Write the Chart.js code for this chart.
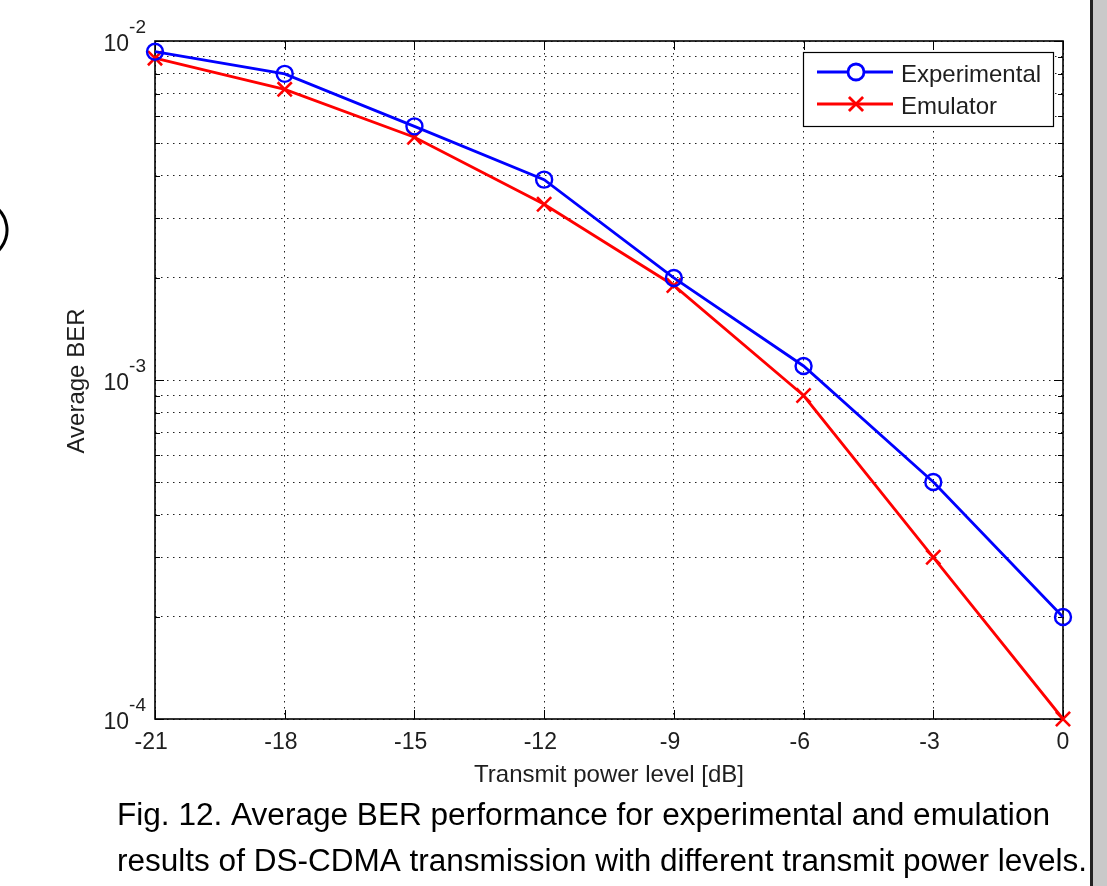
<!DOCTYPE html>
<html><head><meta charset="utf-8">
<script src="https://cdn.jsdelivr.net/npm/chart.js@4.4.1/dist/chart.umd.min.js"></script>
<style>html,body{margin:0;padding:0;background:#fff;overflow:hidden}canvas{display:block}</style>
</head><body>
<canvas id="c" width="1107" height="886"></canvas>
<script>
const powerLevels = [-21, -18, -15, -12, -9, -6, -3, 0];
const experimentalBER = [9.3e-3, 8.0e-3, 5.6e-3, 3.9e-3, 2.0e-3, 1.1e-3, 5.0e-4, 2.0e-4];
const emulatorBER = [8.9e-3, 7.2e-3, 5.2e-3, 3.3e-3, 1.9e-3, 9.0e-4, 3.0e-4, 1.0e-4];
const xTicks = [-21, -18, -15, -12, -9, -6, -3, 0];
const yDecadeTicks = [1e-4, 1e-3, 1e-2];
const yDecadeExponents = ['-4', '-3', '-2'];
const yMinorTicks = [2e-4, 3e-4, 4e-4, 5e-4, 6e-4, 7e-4, 8e-4, 9e-4, 2e-3, 3e-3, 4e-3, 5e-3, 6e-3, 7e-3, 8e-3, 9e-3];
const seriesNames = ['Experimental', 'Emulator'];
const xTitle = 'Transmit power level [dB]';
const yTitle = 'Average BER';
const captionLines = ['Fig. 12. Average BER performance for experimental and emulation',
  'results of DS-CDMA transmission with different transmit power levels.'];

const FONT = '"Liberation Sans", Arial, sans-serif';
const TXT = '#1e1e1e';

const overlay = {
  id: 'overlay',
  beforeDatasetsDraw(chart) {
    const {ctx, chartArea: a, scales: {x, y}} = chart;
    ctx.save();
    ctx.strokeStyle = '#000';
    ctx.lineWidth = 1;
    ctx.beginPath();
    xTicks.forEach(v => {
      const px = Math.round(x.getPixelForValue(v)) + 0.5;
      ctx.moveTo(px, a.bottom); ctx.lineTo(px, a.bottom - 9);
      ctx.moveTo(px, a.top); ctx.lineTo(px, a.top + 9);
    });
    yDecadeTicks.forEach(v => {
      const py = Math.round(y.getPixelForValue(v)) + 0.5;
      ctx.moveTo(a.left, py); ctx.lineTo(a.left + 9, py);
      ctx.moveTo(a.right, py); ctx.lineTo(a.right - 9, py);
    });
    yMinorTicks.forEach(v => {
      const py = Math.round(y.getPixelForValue(v)) + 0.5;
      ctx.moveTo(a.left, py); ctx.lineTo(a.left + 5, py);
      ctx.moveTo(a.right, py); ctx.lineTo(a.right - 5, py);
    });
    ctx.stroke();
    ctx.lineWidth = 1.6;
    ctx.strokeRect(a.left, a.top, a.right - a.left, a.bottom - a.top);
    ctx.restore();
  },
  afterDraw(chart) {
    const {ctx, chartArea: a, scales: {x, y}} = chart;
    ctx.save();
    ctx.fillStyle = TXT;
    ctx.textBaseline = 'alphabetic';

    // x tick labels (digits centred on the tick, minus sign hanging left)
    ctx.font = '23px ' + FONT;
    ctx.textAlign = 'left';
    xTicks.forEach(v => {
      const px = x.getPixelForValue(v);
      const s = String(v);
      const digits = s.replace('-', '');
      const dw = ctx.measureText(digits).width;
      const mw = s.startsWith('-') ? ctx.measureText('-').width : 0;
      ctx.fillText(s, px - dw / 2 - mw, a.bottom + 30);
    });

    // y decade labels with superscript
    yDecadeTicks.forEach((v, i) => {
      const py = y.getPixelForValue(v);
      const exp = yDecadeExponents[i];
      ctx.font = '19px ' + FONT;
      const ew = ctx.measureText(exp).width;
      ctx.font = '23px ' + FONT;
      const bw = ctx.measureText('10').width;
      const right = a.left - 9;
      ctx.textAlign = 'left';
      ctx.fillText('10', right - ew - bw, py + 9.5);
      ctx.font = '19px ' + FONT;
      ctx.fillText(exp, right - ew, py - 8);
    });

    // axis titles
    ctx.font = '24px ' + FONT;
    ctx.textAlign = 'center';
    ctx.fillText(xTitle, (a.left + a.right) / 2, 782);
    ctx.save();
    ctx.translate(84, (a.top + a.bottom) / 2 + 1);
    ctx.rotate(-Math.PI / 2);
    ctx.fillText(yTitle, 0, 0);
    ctx.restore();

    // legend box
    const lx = 803, ly = 52, lw = 250, lh = 74;
    ctx.fillStyle = '#fff';
    ctx.fillRect(lx, ly, lw, lh);
    ctx.strokeStyle = '#000';
    ctx.lineWidth = 1.2;
    ctx.strokeRect(lx + 0.5, ly + 0.5, lw, lh);
    chart.data.datasets.forEach((ds, i) => {
      const cy = ly + 20 + i * 32;
      ctx.strokeStyle = ds.borderColor;
      ctx.lineWidth = ds.borderWidth;
      ctx.beginPath(); ctx.moveTo(817, cy); ctx.lineTo(893, cy); ctx.stroke();
      Chart.helpers.drawPoint(ctx, {pointStyle: ds.pointStyle, radius: ds.pointRadius, borderWidth: ds.pointBorderWidth, rotation: 0}, 856, cy);
      ctx.fillStyle = TXT;
      ctx.font = '24px ' + FONT;
      ctx.textAlign = 'left';
      ctx.textBaseline = 'alphabetic';
      ctx.fillText(ds.label, 901, cy + 9.5);
    });

    // caption (condensed)
    ctx.fillStyle = '#000';
    ctx.textAlign = 'left';
    ctx.textBaseline = 'alphabetic';
    const capTargets = [[117, 825, 933], [117, 871, 970]];
    captionLines.forEach((t, i) => {
      ctx.font = '31px "Liberation Sans Narrow", "Arial Narrow", ' + FONT;
      const w = ctx.measureText(t).width;
      const [cx, cy, tw] = capTargets[i];
      ctx.save();
      ctx.translate(cx, cy);
      ctx.scale(tw / w, 1);
      ctx.fillText(t, 0, 0);
      ctx.restore();
    });

    // right gray strip
    ctx.fillStyle = '#c9c9c9';
    ctx.fillRect(1093, 0, 14, 886);
    ctx.fillStyle = '#222';
    ctx.fillRect(1090, 0, 3, 886);

    // left fragment ")"
    ctx.strokeStyle = '#000';
    ctx.lineWidth = 3;
    ctx.beginPath();
    ctx.arc(-22, 230, 29, -0.95, 0.95);
    ctx.stroke();
    ctx.restore();
  }
};

new Chart(document.getElementById('c'), {
  type: 'line',
  data: {
    datasets: [
      {
        label: seriesNames[0],
        data: powerLevels.map((p, i) => ({x: p, y: experimentalBER[i]})),
        borderColor: '#0000ff', backgroundColor: 'rgba(0,0,0,0)',
        borderWidth: 2.8, pointStyle: 'circle', pointRadius: 8, pointBorderWidth: 2.4,
        pointBorderColor: '#0000ff', pointBackgroundColor: 'rgba(0,0,0,0)',
        tension: 0, clip: false
      },
      {
        label: seriesNames[1],
        data: powerLevels.map((p, i) => ({x: p, y: emulatorBER[i]})),
        borderColor: '#ff0000', backgroundColor: 'rgba(0,0,0,0)',
        borderWidth: 2.8, pointStyle: 'crossRot', pointRadius: 10, pointBorderWidth: 2.6,
        pointBorderColor: '#ff0000', pointBackgroundColor: 'rgba(0,0,0,0)',
        tension: 0, clip: false
      }
    ]
  },
  options: {
    responsive: false,
    animation: false,
    events: [],
    layout: {padding: {top: 41, right: 44, left: 0, bottom: 0}},
    plugins: {legend: {display: false}, tooltip: {enabled: false}, title: {display: false}},
    scales: {
      x: {
        type: 'linear', min: -21, max: 0,
        afterBuildTicks: s => { s.ticks = xTicks.map(v => ({value: v})); },
        afterFit: s => { s.height = 167; },
        ticks: {display: false},
        grid: {color: '#222', lineWidth: 1, drawTicks: false},
        border: {display: false, dash: [1.5, 4.5]}
      },
      y: {
        type: 'logarithmic', min: 1e-4, max: 1e-2,
        afterBuildTicks: s => { s.ticks = yDecadeTicks.concat(yMinorTicks).sort((p, q) => p - q).map(v => ({value: v})); },
        afterFit: s => { s.width = 155; },
        ticks: {display: false},
        grid: {color: '#222', lineWidth: 1, drawTicks: false},
        border: {display: false, dash: [1.5, 4.5]}
      }
    }
  },
  plugins: [overlay]
});
</script>
</body></html>
